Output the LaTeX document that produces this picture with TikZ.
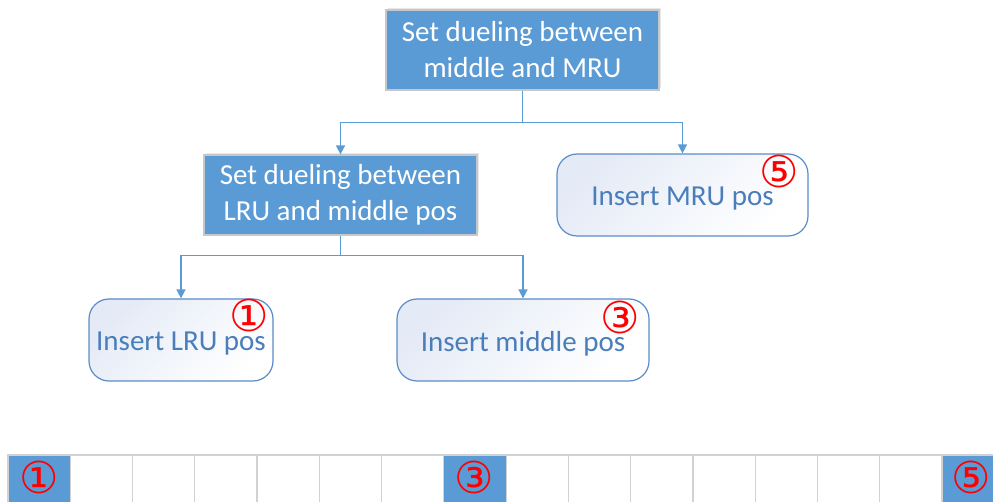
\documentclass[tikz,border=0pt]{standalone}
\usepackage{fontspec}
\setmainfont{Carlito}
\newfontfamily\circfont{DejaVu Sans}
\usetikzlibrary{arrows.meta,shadows}
\definecolor{boxblue}{HTML}{5B9BD5}
\definecolor{boxedge}{HTML}{C4C8CC}
\definecolor{roundedge}{HTML}{5A8CC6}
\definecolor{roundtext}{HTML}{4A7EBB}
\definecolor{roundfill}{HTML}{E4EAF6}
\definecolor{celledge}{HTML}{D0D3D6}
\tikzset{
  decision/.style={rectangle, fill=boxblue, draw=boxedge, line width=1.2pt,
    text=white, align=center, inner sep=0pt,
    font=\fontsize{29}{36}\selectfont,
    drop shadow={shadow xshift=2pt, shadow yshift=2pt, opacity=0.18}},
  action/.style={rectangle, rounded corners=20pt, draw=roundedge, line width=1.2pt,
    left color=roundfill, right color=white, shading angle=45,
    text=roundtext, align=center, inner sep=0pt,
    font=\fontsize{29}{36}\selectfont},
  circnum/.style={text=red, font=\circfont\fontsize{44}{44}\selectfont, inner sep=0pt},
  conn/.style={draw=boxblue, line width=1.5pt, -{Triangle[length=9pt,width=9pt]}},
  link/.style={draw=boxblue, line width=1.5pt},
  cell/.style={draw=celledge, line width=1.2pt, fill=white},
  hotcell/.style={draw=celledge, line width=1.2pt, fill=boxblue}
}
% sets a label a little below the centre of its box
\newcommand{\lowered}[1]{\raisebox{-4pt}[\height][\depth]{#1}}
\begin{document}
\begin{tikzpicture}[x=1pt,y=-1pt]
\useasboundingbox (0,0) rectangle (993,502);
\clip (0,0) rectangle (993,502);

% decision boxes
\node[decision, minimum width=273pt, minimum height=80pt] (top) at (522.5,50)
  {Set dueling between\\middle and MRU};
\node[decision, minimum width=273pt, minimum height=80pt] (mid) at (340.5,195)
  {Set dueling between\\LRU and middle pos};

% insertion positions
\node[action, minimum width=251pt, minimum height=82pt] (mru) at (682.5,195)
  {\lowered{Insert MRU pos}};
\node[action, minimum width=184pt, minimum height=82pt] (lru) at (181,340)
  {\lowered{Insert LRU pos}};
\node[action, minimum width=252pt, minimum height=82pt] (middle) at (523,340)
  {\lowered{Insert middle pos}};

\node[circnum] (m5) at (779,171) {⑤};
\node[circnum] (m1) at (249,315) {①};
\node[circnum] (m3) at (620,317) {③};

% connectors
\draw[link] (top.south) -- ++(0,32) coordinate (j1);
\draw[conn] (j1) -| (mid.north);
\draw[conn] (j1) -| (mru.north);
\draw[link] (mid.south) -- ++(0,20) coordinate (j2);
\draw[conn] (j2) -| (lru.north);
\draw[conn] (j2) -| (middle.north);

% cache line of sixteen positions
\foreach \i in {0,...,15}{
  \pgfmathsetmacro{\xa}{8+62.27*\i}
  \ifnum\i=0 \def\sty{hotcell}\else\ifnum\i=7 \def\sty{hotcell}\else\ifnum\i=15 \def\sty{hotcell}\else\def\sty{cell}\fi\fi\fi
  \draw[\sty] (\xa,455) rectangle ++(62.27,60);
}
\node[circnum] (c1) at (39,477) {①};
\node[circnum] (c3) at (474,477) {③};
\node[circnum] (c5) at (971,477) {⑤};
\end{tikzpicture}
\end{document}
